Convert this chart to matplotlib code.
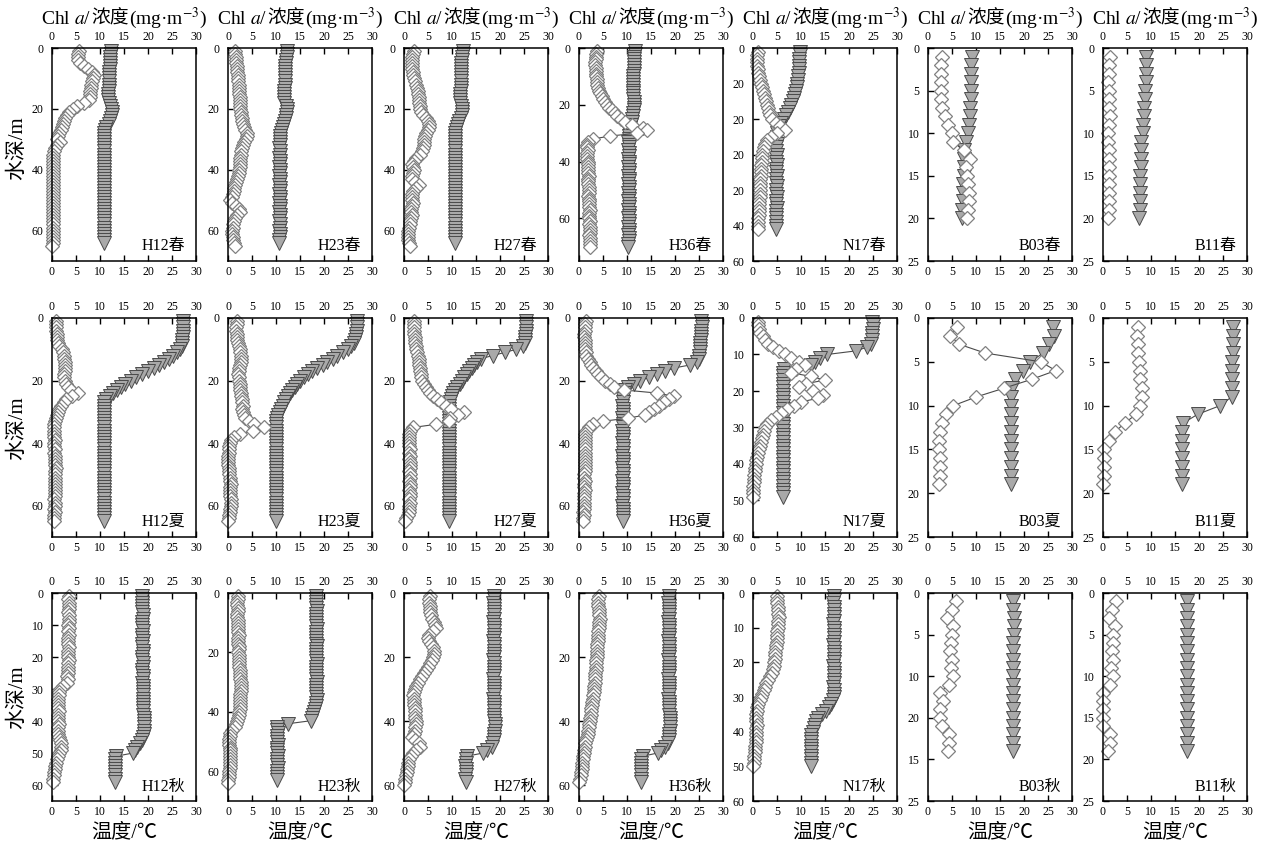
import numpy as np
import matplotlib.pyplot as plt
from matplotlib.offsetbox import TextArea, HPacker, AnnotationBbox

plt.rcParams['font.family'] = ['Liberation Serif', 'Noto Sans CJK SC']
plt.rcParams['mathtext.fontset'] = 'stix'

stations = ['H12', 'H23', 'H27', 'H36', 'N17', 'B03', 'B11']
seasons = ['春', '夏', '秋']

# ---- spring: Chl a (mg m-3) and temperature (degC), one value per metre from 1 m down
h12_spr_chl = [5.6, 5.5, 5.4, 5.5, 5.8, 6.6, 7.6, 8.4, 8.7, 8.6,
               8.3, 8.1, 8.2, 8.0, 7.9, 8.0, 7.7, 6.6, 5.3, 4.3,
               3.6, 3.1, 2.8, 2.5, 2.2, 2.0, 1.8, 1.5, 1.3, 1.0,
               1.6, 1.1, 0.6, 0.4, 0.3, 0.3, 0.2, 0.3, 0.2, 0.3,
               0.3, 0.2, 0.3, 0.3, 0.2, 0.3, 0.3, 0.2, 0.3, 0.3,
               0.2, 0.3, 0.3, 0.2, 0.3, 0.2, 0.3, 0.3, 0.2, 0.3,
               0.3, 0.2, 0.3, 0.2, 0.1]
h12_spr_tmp = [12.2, 12.2, 12.1, 12.1, 12.0, 12.0, 12.0, 11.9, 11.9, 11.9,
               11.8, 11.8, 11.8, 11.8, 11.7, 11.7, 11.7, 11.8, 12.1, 12.3,
               12.4, 12.4, 12.3, 12.1, 11.8, 11.3, 11.0, 10.9, 10.9, 10.9,
               10.9, 10.9, 10.8, 10.8, 10.8, 10.8, 10.9, 10.8, 10.8, 10.8,
               10.8, 10.8, 10.9, 10.8, 10.8, 10.8, 10.8, 10.8, 10.9, 10.8,
               10.8, 10.8, 10.8, 10.9, 10.8, 10.8, 10.8, 10.8, 10.8, 10.9,
               10.8, 10.8, 10.8, 10.8]
h23_spr_chl = [1.4, 1.5, 1.6, 1.7, 1.7, 1.8, 1.9, 1.9, 2.0, 2.0,
               2.1, 2.2, 2.2, 2.3, 2.3, 2.4, 2.4, 2.5, 2.5, 2.6,
               2.7, 2.8, 2.9, 3.0, 3.1, 3.3, 3.6, 3.9, 4.0, 3.8,
               3.4, 3.1, 2.9, 2.8, 2.7, 2.6, 2.6, 2.5, 2.4, 2.3,
               2.2, 2.0, 1.9, 1.7, 1.5, 1.3, 1.2, 1.1, 0.9, 0.4,
               0.8, 1.6, 2.3, 2.4, 1.9, 1.5, 1.2, 1.1, 1.0, 0.9,
               0.9, 1.0, 1.1, 1.2, 1.4]
h23_spr_tmp = [12.3, 12.3, 12.2, 12.1, 12.0, 11.9, 11.9, 11.8, 11.8, 11.8,
               11.8, 11.8, 11.8, 11.7, 11.7, 11.7, 11.6, 11.7, 12.0, 12.2,
               12.2, 12.1, 12.0, 11.9, 11.7, 11.5, 11.2, 11.0, 10.9, 10.8,
               10.8, 10.8, 10.7, 10.8, 10.8, 10.7, 10.8, 10.8, 10.7, 10.8,
               10.8, 10.7, 10.8, 10.8, 10.7, 10.8, 10.8, 10.7, 10.8, 10.8,
               10.7, 10.8, 10.8, 10.7, 10.8, 10.8, 10.7, 10.8, 10.8, 10.7,
               10.8, 10.8, 10.7, 10.7]
h27_spr_chl = [2.0, 1.8, 1.7, 1.6, 1.6, 1.7, 1.7, 1.8, 1.9, 2.0,
               2.3, 2.6, 2.8, 2.9, 3.0, 3.1, 3.1, 3.2, 3.3, 3.4,
               3.6, 4.0, 4.6, 5.1, 5.3, 5.2, 5.0, 4.6, 4.3, 4.2,
               4.1, 4.2, 4.0, 3.8, 3.3, 2.6, 2.0, 1.7, 1.8, 2.0,
               1.9, 1.7, 1.6, 2.2, 3.2, 2.6, 1.9, 1.7, 1.6, 1.7,
               1.8, 1.6, 1.4, 1.5, 1.6, 1.5, 1.3, 1.2, 1.0, 0.9,
               0.8, 0.8, 0.9, 1.0, 1.2]
h27_spr_tmp = [12.2, 12.2, 12.1, 12.0, 11.9, 11.9, 11.9, 11.8, 11.8, 11.8,
               11.8, 11.8, 11.8, 11.8, 11.7, 11.7, 11.6, 11.7, 11.9, 12.1,
               12.1, 12.0, 11.8, 11.5, 11.2, 11.0, 10.8, 10.7, 10.7, 10.7,
               10.7, 10.7, 10.6, 10.7, 10.7, 10.7, 10.6, 10.7, 10.7, 10.7,
               10.6, 10.7, 10.7, 10.7, 10.6, 10.7, 10.7, 10.7, 10.6, 10.7,
               10.7, 10.7, 10.6, 10.7, 10.7, 10.7, 10.6, 10.7, 10.7, 10.7,
               10.6, 10.7, 10.7, 10.7]
h36_spr_chl = [3.7, 3.6, 3.5, 3.5, 3.4, 3.4, 3.5, 3.5, 3.6, 3.6,
               3.7, 3.7, 3.8, 3.9, 4.1, 4.4, 4.7, 5.0, 5.4, 5.8,
               6.3, 6.8, 7.4, 8.0, 8.7, 9.6, 11.0, 13.3, 14.2, 12.0,
               6.5, 3.0, 1.8, 1.6, 1.7, 1.8, 1.7, 1.6, 1.7, 1.8,
               1.8, 1.9, 1.8, 1.9, 2.0, 1.9, 1.8, 1.9, 2.0, 2.1,
               2.0, 1.9, 2.0, 2.1, 2.0, 2.1, 2.2, 2.1, 2.0, 2.1,
               2.2, 2.1, 2.2, 2.3, 2.2, 2.1, 2.2, 2.3, 2.2, 2.2]
h36_spr_tmp = [11.6, 11.6, 11.5, 11.5, 11.5, 11.4, 11.4, 11.4, 11.4, 11.3,
               11.3, 11.3, 11.3, 11.3, 11.2, 11.2, 11.2, 11.3, 11.4, 11.5,
               11.5, 11.4, 11.3, 11.2, 11.1, 11.0, 10.8, 10.6, 10.5, 10.4,
               10.4, 10.4, 10.3, 10.4, 10.4, 10.3, 10.4, 10.4, 10.3, 10.4,
               10.4, 10.3, 10.4, 10.4, 10.3, 10.4, 10.4, 10.3, 10.4, 10.4,
               10.3, 10.4, 10.4, 10.3, 10.4, 10.4, 10.3, 10.4, 10.4, 10.3,
               10.4, 10.4, 10.3, 10.4, 10.4, 10.3, 10.4, 10.4, 10.3, 10.3]
n17_spr_chl = [1.0, 0.9, 0.8, 0.8, 0.9, 1.0, 1.1, 1.3, 1.5, 1.7,
               1.9, 2.1, 2.3, 2.5, 2.7, 2.9, 3.1, 3.3, 3.6, 4.0,
               4.8, 5.6, 6.6, 5.0, 3.8, 3.0, 2.5, 2.2, 2.0, 1.9,
               1.8, 1.8, 1.7, 1.7, 1.6, 1.6, 1.5, 1.5, 1.5, 1.4,
               1.4, 1.4, 1.3, 1.3, 1.3, 1.2, 1.2, 1.1, 1.1, 1.0,
               1.0]
n17_spr_tmp = [9.7, 9.7, 9.6, 9.6, 9.6, 9.5, 9.5, 9.4, 9.3, 9.2,
               9.1, 8.9, 8.7, 8.5, 8.3, 8.0, 7.7, 7.3, 6.9, 6.4,
               5.9, 5.5, 5.1, 4.9, 4.9, 4.8, 4.9, 4.8, 4.8, 4.9,
               4.8, 4.8, 4.9, 4.8, 4.8, 4.9, 4.8, 4.8, 4.9, 4.8,
               4.8, 4.9, 4.8, 4.8, 4.9, 4.8, 4.8, 4.8, 4.8, 4.7,
               4.7]
b03_spr_chl = [3.0, 2.8, 2.8, 2.8, 2.8, 2.8, 3.0, 3.5, 4.2, 4.9,
               5.2, 7.4, 8.7, 8.0, 8.1, 8.3, 8.5, 8.5, 8.3, 8.1]
b03_spr_tmp = [9.1, 9.0, 9.0, 8.9, 8.9, 8.9, 8.8, 8.7, 8.5, 8.3,
               7.9, 7.6, 7.5, 7.4, 7.4, 7.3, 7.2, 7.2, 7.1, 7.1]
b11_spr_chl = [1.5, 1.3, 1.2, 1.1, 1.2, 1.3, 1.3, 1.4, 1.2, 1.0,
               1.1, 1.3, 1.2, 1.3, 1.2, 1.3, 1.2, 1.3, 1.2, 1.0]
b11_spr_tmp = [9.0, 9.0, 8.9, 8.9, 8.8, 8.7, 8.6, 8.5, 8.4, 8.3,
               8.0, 7.9, 7.9, 7.9, 7.8, 7.8, 7.8, 7.7, 7.7, 7.6]

# ---- summer
h12_sum_chl = [0.9, 0.8, 0.8, 0.9, 1.0, 1.0, 1.1, 1.2, 1.5, 2.0,
               2.3, 2.5, 2.6, 2.7, 2.8, 2.8, 2.7, 2.6, 2.6, 2.7,
               3.0, 3.4, 4.0, 5.4, 4.2, 3.0, 2.4, 1.9, 1.5, 1.2,
               1.0, 0.8, 0.6, 0.5, 0.5, 0.4, 0.5, 0.5, 0.6, 0.5,
               0.5, 0.6, 0.5, 0.6, 0.7, 0.6, 0.7, 0.8, 0.7, 0.6,
               0.6, 0.7, 0.6, 0.6, 0.7, 0.6, 0.6, 0.5, 0.6, 0.6,
               0.5, 0.6, 0.5, 0.5, 0.4]
h12_sum_tmp = [27.3, 27.3, 27.3, 27.2, 27.2, 27.2, 27.1, 27.1, 27.0, 26.7,
               26.0, 25.2, 24.3, 23.3, 22.2, 21.2, 19.9, 18.8, 17.5, 16.4,
               15.3, 14.3, 13.5, 12.8, 12.1, 11.3, 10.9, 10.9, 10.9, 10.9,
               10.9, 10.9, 10.8, 10.9, 10.9, 10.9, 10.8, 10.9, 10.9, 10.9,
               10.9, 10.8, 10.9, 10.9, 10.9, 10.9, 10.8, 10.9, 10.9, 10.9,
               10.9, 10.8, 10.9, 10.9, 10.9, 10.9, 10.8, 10.9, 10.9, 10.9,
               10.9, 10.9, 10.9, 10.9, 10.9]
h23_sum_chl = [1.9, 1.8, 1.7, 1.7, 1.8, 1.8, 1.9, 2.0, 2.2, 2.4,
               2.6, 2.7, 2.8, 2.7, 2.5, 2.3, 2.2, 2.1, 2.2, 2.3,
               2.4, 2.5, 2.6, 2.7, 2.8, 2.9, 3.0, 3.1, 3.0, 3.2,
               3.4, 3.6, 4.4, 5.5, 7.4, 5.2, 2.6, 1.3, 0.7, 0.4,
               0.3, 0.2, 0.2, 0.1, 0.1, 0.1, 0.1, 0.2, 0.2, 0.3,
               0.4, 0.5, 0.6, 0.5, 0.4, 0.4, 0.5, 0.6, 0.7, 0.6,
               0.5, 0.4, 0.3, 0.2, 0.1]
h23_sum_tmp = [26.9, 26.9, 26.8, 26.8, 26.7, 26.6, 26.5, 26.2, 25.7, 24.9,
               23.9, 22.8, 21.8, 20.7, 19.7, 18.6, 17.6, 16.7, 15.9, 15.0,
               14.4, 13.9, 13.4, 12.9, 12.4, 12.0, 11.7, 11.4, 11.1, 10.8,
               10.5, 10.2, 10.0, 10.0, 9.9, 10.0, 10.0, 9.9, 10.0, 10.0,
               9.9, 10.0, 10.0, 9.9, 10.0, 10.0, 9.9, 10.0, 10.0, 9.9,
               10.0, 10.0, 9.9, 10.0, 10.0, 9.9, 10.0, 10.0, 9.9, 10.0,
               10.0, 9.9, 10.0, 10.0, 10.0]
h27_sum_chl = [2.1, 2.0, 2.0, 2.1, 2.1, 2.2, 2.2, 2.3, 2.4, 2.5,
               2.8, 3.0, 3.1, 3.2, 3.2, 3.3, 3.4, 3.5, 3.6, 3.8,
               4.1, 4.5, 5.0, 5.5, 6.1, 6.8, 7.8, 8.8, 9.8, 12.4,
               11.3, 9.5, 9.3, 6.6, 1.8, 1.3, 1.1, 1.0, 1.0, 1.1,
               1.1, 1.2, 1.1, 1.2, 1.1, 1.2, 1.3, 1.2, 1.1, 1.2,
               1.2, 1.1, 1.2, 1.2, 1.1, 1.2, 1.2, 1.1, 1.2, 1.1,
               1.1, 1.0, 0.8, 0.5, 0.2]
h27_sum_tmp = [25.4, 25.5, 25.5, 25.4, 25.4, 25.3, 25.3, 25.2, 24.8, 23.4,
               21.0, 18.5, 16.0, 15.2, 14.6, 14.1, 13.6, 13.1, 12.6, 12.1,
               11.6, 11.1, 10.7, 10.3, 10.0, 9.7, 9.5, 9.4, 9.4, 9.4,
               9.4, 9.3, 9.4, 9.4, 9.4, 9.3, 9.4, 9.4, 9.4, 9.3,
               9.4, 9.4, 9.4, 9.3, 9.4, 9.4, 9.4, 9.3, 9.4, 9.4,
               9.4, 9.3, 9.4, 9.4, 9.4, 9.3, 9.4, 9.4, 9.4, 9.3,
               9.4, 9.4, 9.4, 9.4, 9.4]
h36_sum_chl = [1.4, 1.3, 1.2, 1.2, 1.1, 1.1, 1.2, 1.2, 1.3, 1.3,
               1.4, 1.5, 1.8, 2.2, 2.6, 3.0, 3.5, 4.0, 4.6, 5.4,
               6.5, 7.2, 9.3, 16.3, 19.7, 18.8, 17.8, 16.6, 15.6, 14.5,
               13.8, 10.3, 5.0, 3.0, 2.0, 1.5, 1.3, 1.2, 1.2, 1.3,
               1.3, 1.2, 1.2, 1.3, 1.3, 1.2, 1.2, 1.3, 1.2, 1.1,
               1.1, 1.2, 1.1, 1.1, 1.2, 1.1, 1.0, 1.1, 1.0, 1.0,
               1.0, 0.9, 1.0, 0.9, 0.9]
h36_sum_tmp = [25.5, 25.6, 25.6, 25.5, 25.5, 25.4, 25.4, 25.3, 25.3, 25.2,
               25.2, 25.1, 24.9, 24.5, 23.2, 19.7, 18.0, 16.3, 14.5, 12.8,
               11.4, 10.3, 9.6, 9.3, 9.1, 9.1, 9.1, 9.0, 9.1, 9.1,
               9.1, 9.0, 9.1, 9.1, 9.1, 9.0, 9.1, 9.1, 9.1, 9.0,
               9.1, 9.1, 9.1, 9.0, 9.1, 9.1, 9.1, 9.0, 9.1, 9.1,
               9.1, 9.0, 9.1, 9.1, 9.1, 9.0, 9.1, 9.1, 9.1, 9.0,
               9.1, 9.1, 9.1, 9.1, 9.1]
n17_sum_chl = [1.0, 1.1, 1.3, 1.5, 2.0, 2.4, 3.1, 4.2, 5.4, 6.6,
               8.0, 9.6, 10.8, 9.0, 8.0, 12.0, 15.0, 11.0, 9.5, 12.5,
               14.5, 13.5, 10.0, 8.5, 7.0, 5.8, 4.8, 3.8, 3.0, 2.5,
               2.2, 2.0, 1.8, 1.6, 1.4, 1.2, 1.0, 0.8, 0.7, 0.6,
               0.5, 0.4, 0.3, 0.2, 0.2, 0.1, 0.1, 0.1, 0.1]
n17_sum_tmp = [24.8, 24.9, 24.9, 24.8, 24.8, 24.7, 24.5, 23.7, 21.5, 15.4,
               14.0, 12.9, 12.0, 6.5, 6.3, 6.2, 6.3, 6.3, 6.2, 6.3,
               6.2, 6.3, 6.3, 6.2, 6.3, 6.2, 6.3, 6.3, 6.2, 6.3,
               6.2, 6.3, 6.3, 6.2, 6.3, 6.2, 6.3, 6.3, 6.2, 6.3,
               6.2, 6.3, 6.3, 6.2, 6.3, 6.2, 6.3, 6.3, 6.2]
b03_sum_chl = [6.0, 4.6, 6.5, 11.9, 23.5, 26.6, 21.6, 15.9, 10.1, 5.3,
               3.7, 2.9, 2.5, 2.3, 2.3, 2.4, 2.4, 2.4, 2.2]
b03_sum_tmp = [26.1, 26.2, 25.2, 24.0, 21.3, 19.8, 18.1, 17.4, 17.2, 17.2,
               17.2, 17.2, 17.2, 17.2, 17.2, 17.2, 17.2, 17.2, 17.2]
b11_sum_chl = [7.2, 7.1, 7.2, 7.3, 7.5, 7.7, 7.7, 8.1, 8.1, 7.8,
               6.9, 4.5, 2.5, 1.2, 0.3, 0.3, 0.2, 0.2, 0.0]
b11_sum_tmp = [27.1, 27.1, 27.0, 27.0, 26.9, 26.9, 26.8, 26.8, 26.8, 24.4,
               19.7, 16.7, 16.5, 16.5, 16.5, 16.5, 16.5, 16.5, 16.5]

# ---- autumn
h12_aut_chl = [3.5, 3.4, 3.5, 3.6, 3.5, 3.4, 3.5, 3.6, 3.5, 3.4,
               3.5, 3.4, 3.5, 3.4, 3.3, 3.4, 3.5, 3.4, 3.3, 3.4,
               3.5, 3.4, 3.3, 3.4, 3.3, 3.2, 3.3, 3.2, 2.3, 1.7,
               1.5, 1.4, 1.3, 1.2, 1.2, 1.3, 1.4, 1.3, 1.2, 1.3,
               1.4, 1.3, 1.2, 1.3, 1.4, 1.6, 1.8, 1.9, 1.8, 1.5,
               1.2, 1.0, 0.8, 0.7, 0.6, 0.5, 0.4, 0.3, 0.2]
h12_aut_tmp = [18.8, 18.8, 18.7, 18.7, 18.8, 18.8, 18.9, 18.9, 18.8, 18.8,
               18.8, 18.9, 18.8, 18.8, 18.9, 18.8, 18.8, 18.9, 18.9, 18.8,
               18.8, 18.9, 18.9, 18.8, 18.8, 18.9, 18.9, 18.8, 18.9, 18.9,
               18.9, 18.9, 19.0, 18.9, 18.9, 19.0, 19.0, 19.0, 19.1, 19.1,
               19.2, 19.2, 19.2, 19.1, 19.0, 18.8, 18.3, 17.7, 17.3, 16.9,
               13.4, 13.2, 13.2, 13.2, 13.1, 13.2, 13.2, 13.2, 13.2]
h23_aut_chl = [2.1, 2.0, 1.9, 1.9, 2.0, 2.0, 1.9, 1.9, 2.0, 2.1,
               2.1, 2.0, 2.1, 2.2, 2.1, 2.0, 2.1, 2.2, 2.2, 2.1,
               2.2, 2.3, 2.2, 2.3, 2.3, 2.4, 2.4, 2.5, 2.6, 2.7,
               2.7, 2.8, 2.7, 2.6, 2.6, 2.5, 2.4, 2.5, 2.4, 2.3,
               2.2, 2.0, 1.8, 1.6, 1.4, 0.8, 0.5, 0.4, 0.3, 0.3,
               0.3, 0.4, 0.4, 0.5, 0.5, 0.4, 0.4, 0.5, 0.4, 0.3,
               0.3, 0.2, 0.1, 0.0]
h23_aut_tmp = [18.4, 18.4, 18.3, 18.4, 18.4, 18.5, 18.4, 18.4, 18.3, 18.4,
               18.4, 18.5, 18.4, 18.4, 18.3, 18.4, 18.4, 18.5, 18.4, 18.4,
               18.3, 18.4, 18.4, 18.5, 18.4, 18.4, 18.3, 18.4, 18.4, 18.5,
               18.4, 18.4, 18.3, 18.4, 18.4, 18.5, 18.4, 18.4, 18.2, 18.0,
               17.7, 17.5, 17.2, 12.5, 10.3, 10.3, 10.4, 10.3, 10.3, 10.3,
               10.4, 10.3, 10.3, 10.3, 10.4, 10.3, 10.3, 10.3, 10.4, 10.3,
               10.3, 10.3, 10.3]
h27_aut_chl = [5.4, 5.3, 5.3, 5.4, 5.5, 5.5, 5.6, 5.8, 6.2, 6.5,
               6.6, 6.0, 5.3, 5.0, 5.3, 5.7, 6.0, 6.2, 6.3, 6.1,
               5.8, 5.4, 5.0, 4.6, 4.2, 3.8, 3.4, 3.0, 2.6, 2.2,
               2.0, 1.9, 2.0, 2.1, 2.1, 2.2, 2.2, 2.3, 2.3, 2.4,
               2.4, 2.3, 2.2, 2.0, 1.7, 2.3, 3.1, 3.3, 2.4, 1.8,
               1.4, 1.1, 0.9, 0.8, 0.7, 0.6, 0.5, 0.3, 0.2, 0.0]
h27_aut_tmp = [18.7, 18.7, 18.6, 18.7, 18.7, 18.8, 18.7, 18.7, 18.6, 18.7,
               18.7, 18.8, 18.7, 18.7, 18.6, 18.7, 18.7, 18.8, 18.7, 18.7,
               18.6, 18.7, 18.7, 18.8, 18.7, 18.7, 18.6, 18.7, 18.7, 18.8,
               18.7, 18.7, 18.6, 18.7, 18.7, 18.8, 18.7, 18.7, 18.8, 18.8,
               18.9, 18.9, 18.9, 18.8, 18.8, 18.7, 18.6, 18.3, 17.2, 16.5,
               13.1, 12.9, 12.9, 12.8, 12.9, 12.9, 12.9, 12.8, 12.9]
h36_aut_chl = [4.1, 4.0, 3.9, 4.0, 4.1, 4.2, 4.2, 4.3, 4.2, 4.1,
               4.1, 4.0, 4.0, 3.9, 3.9, 3.8, 3.8, 3.7, 3.7, 3.7,
               3.6, 3.6, 3.5, 3.5, 3.4, 3.4, 3.3, 3.3, 3.2, 3.2,
               3.1, 3.0, 2.9, 2.8, 2.7, 2.6, 2.5, 2.4, 2.3, 2.2,
               2.1, 2.0, 1.9, 1.8, 1.6, 1.5, 1.3, 1.2, 1.1, 1.0,
               0.9, 0.8, 0.7, 0.6, 0.6, 0.5, 0.4, 0.2, 0.1]
h36_aut_tmp = [18.7, 18.7, 18.6, 18.7, 18.7, 18.8, 18.7, 18.7, 18.6, 18.7,
               18.7, 18.8, 18.7, 18.7, 18.6, 18.7, 18.7, 18.8, 18.7, 18.7,
               18.6, 18.7, 18.7, 18.8, 18.7, 18.7, 18.6, 18.7, 18.7, 18.8,
               18.7, 18.7, 18.6, 18.7, 18.7, 18.8, 18.8, 18.8, 18.9, 18.9,
               18.9, 18.9, 18.9, 18.8, 18.8, 18.7, 18.5, 18.0, 17.1, 16.4,
               13.3, 12.9, 12.9, 12.9, 13.0, 12.9, 12.9, 12.9, 12.9]
n17_aut_chl = [5.1, 5.0, 5.1, 5.2, 5.3, 5.3, 5.4, 5.3, 5.2, 5.2,
               5.1, 5.0, 5.0, 4.9, 4.8, 4.7, 4.6, 4.5, 4.5, 4.4,
               4.3, 4.1, 3.9, 3.6, 3.2, 2.8, 2.5, 2.2, 1.9, 1.6,
               1.4, 1.1, 0.9, 0.8, 0.7, 0.7, 0.7, 0.8, 0.7, 0.7,
               0.7, 0.6, 0.6, 0.5, 0.5, 0.4, 0.3, 0.3, 0.2, 0.0]
n17_aut_tmp = [16.8, 16.8, 16.7, 16.8, 16.8, 16.9, 16.8, 16.8, 16.7, 16.8,
               16.8, 16.9, 16.8, 16.8, 16.7, 16.8, 16.8, 16.9, 16.8, 16.8,
               16.7, 16.8, 16.8, 16.9, 16.8, 16.8, 16.7, 16.8, 16.8, 16.8,
               16.6, 16.3, 15.8, 15.2, 14.4, 13.6, 13.2, 13.0, 12.8, 12.4,
               12.1, 12.1, 12.0, 12.1, 12.1, 12.0, 12.1, 12.1, 12.0, 12.1]
b03_aut_chl = [5.9, 5.0, 4.0, 5.2, 5.0, 4.7, 4.6, 5.0, 4.7, 5.2,
               4.3, 2.5, 3.2, 2.6, 2.6, 2.9, 4.3, 4.3, 4.1]
b03_aut_tmp = [17.8, 17.8, 17.9, 17.9, 17.9, 17.8, 17.8, 17.8, 17.8, 17.8,
               17.8, 17.8, 17.8, 17.8, 17.8, 17.8, 17.8, 17.8, 17.8]
b11_aut_chl = [2.7, 1.8, 1.2, 2.4, 2.0, 2.0, 1.8, 2.0, 1.7, 2.0,
               1.4, 0.0, 0.1, 0.0, 0.0, 0.1, 1.4, 1.4, 1.0]
b11_aut_tmp = [17.5, 17.5, 17.5, 17.5, 17.5, 17.5, 17.5, 17.5, 17.5, 17.5,
               17.5, 17.5, 17.5, 17.5, 17.5, 17.5, 17.5, 17.5, 17.5]

# y tick labels as printed (two panels carry misprinted labels)
n17_spr_ylabels = ['0', '20', '20', '20', '20', '40', '60']
b03_aut_ylabels = ['0', '5', '10', '20', '15', '25']

chl_rows = [
    [h12_spr_chl, h23_spr_chl, h27_spr_chl, h36_spr_chl, n17_spr_chl, b03_spr_chl, b11_spr_chl],
    [h12_sum_chl, h23_sum_chl, h27_sum_chl, h36_sum_chl, n17_sum_chl, b03_sum_chl, b11_sum_chl],
    [h12_aut_chl, h23_aut_chl, h27_aut_chl, h36_aut_chl, n17_aut_chl, b03_aut_chl, b11_aut_chl],
]
tmp_rows = [
    [h12_spr_tmp, h23_spr_tmp, h27_spr_tmp, h36_spr_tmp, n17_spr_tmp, b03_spr_tmp, b11_spr_tmp],
    [h12_sum_tmp, h23_sum_tmp, h27_sum_tmp, h36_sum_tmp, n17_sum_tmp, b03_sum_tmp, b11_sum_tmp],
    [h12_aut_tmp, h23_aut_tmp, h27_aut_tmp, h36_aut_tmp, n17_aut_tmp, b03_aut_tmp, b11_aut_tmp],
]

# ---- layout (pixels)
W, H = 1269, 846
col_left = [52, 228, 404, 579, 753, 928, 1103]
col_w = 144
row_top = [48, 318, 593]
row_bot = [261, 537, 801]
y_max = [[70, 70, 70, 75, 60, 25, 25],
         [70, 70, 70, 70, 60, 25, 25],
         [65, 70, 65, 65, 60, 25, 25]]
y_step = [[20, 20, 20, 20, 10, 5, 5],
          [20, 20, 20, 20, 10, 5, 5],
          [10, 20, 20, 20, 10, 5, 5]]
odd_labels = {(0, 4): n17_spr_ylabels, (2, 5): b03_aut_ylabels}

fig = plt.figure(figsize=(W / 100, H / 100), dpi=100)


def add_title(xc, yc):
    fs = 14
    parts = [TextArea(r'Chl $\mathit{a}$/', textprops=dict(fontsize=fs)),
             TextArea('浓度', textprops=dict(fontsize=fs - 0.5, family=['Noto Sans CJK SC'])),
             TextArea(r'(mg·m$^{-3}$)', textprops=dict(fontsize=fs))]
    box = HPacker(children=parts, align='baseline', pad=0, sep=0)
    ab = AnnotationBbox(box, (xc, H - yc), xycoords='figure pixels', frameon=False,
                        box_alignment=(0.5, 0.5), pad=0)
    fig.add_artist(ab)


for r in range(3):
    for c in range(7):
        hgt = row_bot[r] - row_top[r]
        ax = fig.add_axes([col_left[c] / W, 1 - row_bot[r] / H, col_w / W, hgt / H])
        t = tmp_rows[r][c]
        ch = chl_rows[r][c]
        ax.plot(t, np.arange(1, len(t) + 1), marker='v', ms=10, mfc='#a9a9a9', mec='#4a4a4a',
                mew=0.7, color='#4a4a4a', lw=0.8, clip_on=False)
        ax.plot(ch, np.arange(1, len(ch) + 1), marker='D', ms=7.5, mfc='white', mec='#808080',
                mew=0.9, color='#4a4a4a', lw=0.8, clip_on=False)
        ax.set_xlim(0, 30)
        ax.set_ylim(y_max[r][c], 0)
        ax.set_xticks(range(0, 31, 5))
        yt = np.arange(0, y_max[r][c] + 0.1, y_step[r][c])
        ax.set_yticks(yt)
        if (r, c) in odd_labels:
            ax.set_yticklabels(odd_labels[(r, c)])
        else:
            ax.set_yticklabels([str(int(v)) for v in yt])
        ax.tick_params(axis='x', top=True, labeltop=True, bottom=True, labelbottom=True,
                       direction='in', length=4, width=1, labelsize=8.5, pad=3.5)
        ax.tick_params(axis='y', left=True, right=False, direction='in', length=4, width=1,
                       labelsize=8.5, pad=6)
        for s in ax.spines.values():
            s.set_linewidth(1.1)
        ax.text(0.925, 0.05, stations[c] + seasons[r], transform=ax.transAxes,
                ha='right', va='baseline', fontsize=11.5)
        if r == 0:
            add_title(col_left[c] + col_w / 2, 18)
        if r == 2:
            fig.text((col_left[c] + col_w / 2) / W, 1 - 833 / H, '温度/℃',
                     ha='center', va='center', fontsize=14.5)

for yc in [148, 428, 697]:
    fig.text(18 / W, 1 - yc / H, '水深/m', rotation=90, ha='center', va='center', fontsize=15)

fig.savefig('out.png', dpi=100)
